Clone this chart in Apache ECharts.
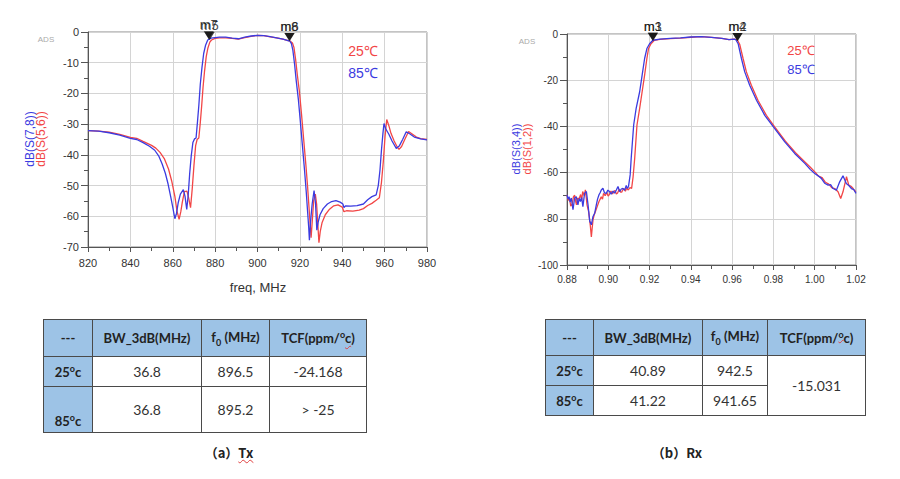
<!DOCTYPE html>
<html>
<head>
<meta charset="utf-8">
<script src="https://cdn.jsdelivr.net/npm/echarts@6/dist/echarts.min.js"></script>
<style>
body{margin:0;background:#fff;width:900px;height:479px;position:relative;overflow:hidden;font-family:Lato,"Noto Sans CJK SC",sans-serif}
#chart{position:absolute;left:0;top:0;width:900px;height:300px;font-family:"Liberation Sans",sans-serif}
table{position:absolute;border-collapse:collapse;table-layout:fixed;color:#333;font-size:14px}
td{border:1px solid #4a4a4a;text-align:center;padding:0}
td.h{background:#9dc3e6;font-weight:bold;color:#222;font-size:13px}
td.b{vertical-align:bottom;padding-bottom:3px}
sub,sup{font-size:9px}
.sp{text-decoration:underline wavy #e04040;text-decoration-thickness:1px}
.cap{position:absolute;top:443px;font-family:"Noto Sans CJK SC",sans-serif;font-weight:bold;font-size:13px;color:#222;transform:translateX(-50%)}
</style>
</head>
<body>
<div id="chart"></div>
<div class="cap" style="left:229px">（a）<span class="sp">Tx</span></div>
<div class="cap" style="left:677px">（b）Rx</div>
<script>
// Tx 滤波器 (MHz, dB)
var tx25 = [[820,-32.1],[825,-32.3],[830,-32.6],[835,-33.3],[840,-34.3],[843,-34.6],[846,-35.6],[850,-36.9],[852,-37.8],[854,-39.2],[856,-41.2],[858,-44.6],[859.5,-48.5],[861,-53.5],[862,-58.3],[863,-61],[863.8,-58.5],[864.5,-55.5],[865.5,-52],[866.7,-51.8],[867.5,-54],[868.4,-57.2],[869.2,-51],[870,-43.5],[870.8,-37],[871.5,-35],[872.3,-34.5],[873,-29.5],[873.6,-24.5],[874.3,-18],[875,-12.8],[875.8,-8],[876.6,-5.2],[877.5,-3.3],[878.3,-2.6],[880,-2.1],[882,-1.9],[885,-1.9],[888,-2.1],[891,-2.3],[894,-1.8],[897,-1.4],[900,-1.1],[903,-1.2],[906,-1.6],[909,-1.9],[912,-2.3],[914,-2.7],[915.5,-3],[916.5,-3.6],[917.2,-5],[918,-9],[918.8,-14],[919.8,-19.5],[920.8,-27],[921.8,-35],[922.8,-43],[923.6,-50],[924.3,-57],[924.9,-63],[925.3,-67],[925.8,-62],[926.5,-55],[927.3,-52.8],[927.9,-56],[928.5,-63],[929,-68.6],[929.6,-65],[930.5,-62],[932,-59.5],[934,-57.7],[936,-56.6],[938,-56.3],[940,-57],[940.8,-58.5],[942,-58.2],[945,-58.3],[948,-58],[950,-57.5],[952,-56.5],[954,-55.8],[956,-54.8],[957.5,-54],[958.5,-49],[959.4,-42],[960.2,-34],[961,-28.5],[962,-30.5],[963,-33],[964.5,-35.5],[966,-37.5],[966.8,-38.2],[968,-37.3],[969.5,-35],[971.3,-32.4],[973,-33.2],[975,-34.2],[977,-34.7],[980,-35]];
var tx85 = [[820,-32.1],[825,-32.3],[830,-32.8],[835,-33.6],[840,-34.6],[843,-35],[846,-36],[849,-37.2],[851.5,-38.5],[853.5,-40.5],[855,-43],[856.5,-46],[857.8,-49.5],[859,-53.5],[860,-57],[861,-60.8],[861.8,-59],[862.6,-55.5],[863.6,-52.8],[865,-51.3],[865.8,-53.5],[866.6,-57.8],[867.3,-53],[868,-46],[868.7,-40.5],[869.5,-36],[870.3,-34.8],[871,-34.5],[871.7,-29],[872.3,-24],[873,-17],[873.8,-11.5],[874.6,-7],[875.5,-4.3],[876.5,-2.6],[878,-2],[880,-1.8],[882,-1.7],[885,-1.7],[888,-2],[891,-2.2],[894,-1.7],[897,-1.3],[900,-1.1],[903,-1.2],[906,-1.5],[909,-1.9],[912,-2.3],[914,-2.7],[915.3,-3],[916,-3.8],[916.7,-6],[917.5,-10.5],[918.3,-16],[919.3,-22],[920.2,-29],[921.2,-37],[922.2,-45],[923,-52],[923.7,-59],[924.2,-64],[924.5,-67.8],[925,-62],[925.8,-56],[926.7,-51.6],[927.4,-56],[928,-64.5],[928.6,-62],[929.5,-59.5],[931,-57.5],[933,-56],[935,-55.2],[937,-54.9],[939,-55.4],[940.3,-56],[940.8,-57.2],[941.5,-56.6],[944,-56.7],[947,-56.5],[950,-56],[952,-54.6],[954,-53.6],[956,-53],[957,-50],[957.8,-45],[958.5,-38.5],[959.2,-33],[959.7,-29.8],[960.5,-31.5],[962,-33.3],[963.5,-35.5],[965.5,-37.9],[967,-37],[968.5,-35],[970.2,-32.5],[972,-33.2],[974,-34.2],[977,-34.8],[980,-35.1]];

// Rx 滤波器 (GHz, dB)
var rx25 = [[0.88,-69.6],[0.8806,-72],[0.8812,-71],[0.8818,-74.5],[0.8825,-73.7],[0.8831,-70.5],[0.8837,-69.8],[0.8842,-72.5],[0.8846,-74],[0.8852,-71],[0.8858,-71.5],[0.8866,-69.5],[0.8871,-72],[0.8876,-68.2],[0.8884,-70],[0.8889,-67.5],[0.8893,-70.5],[0.8897,-74],[0.8905,-77],[0.8913,-83],[0.8918,-87.8],[0.8922,-84],[0.8926,-80.5],[0.8931,-78.5],[0.8939,-76.5],[0.8947,-74.5],[0.8955,-72.5],[0.8966,-70.5],[0.8972,-71.5],[0.8977,-69],[0.8985,-70],[0.8993,-68.5],[0.8999,-70.2],[0.9005,-69.5],[0.9013,-68],[0.9021,-69.2],[0.9027,-68.1],[0.9033,-67.8],[0.9039,-69.3],[0.9045,-68.8],[0.9053,-67.2],[0.9059,-68.4],[0.9065,-68.5],[0.9071,-67.3],[0.9077,-67],[0.9083,-68.1],[0.9088,-66.8],[0.9097,-67.5],[0.9105,-66.5],[0.9113,-66.8],[0.912,-62],[0.9128,-53.8],[0.9139,-39.4],[0.9152,-32.2],[0.9164,-25],[0.9176,-17.8],[0.9187,-10.6],[0.9195,-6.3],[0.9207,-4.2],[0.9222,-2.8],[0.925,-2.3],[0.93,-2],[0.935,-1.8],[0.94,-1.4],[0.945,-1.1],[0.95,-1.5],[0.955,-1.9],[0.9585,-2.4],[0.961,-2.2],[0.9625,-2.5],[0.9637,-4.6],[0.9653,-10.6],[0.9669,-16.4],[0.9693,-22.2],[0.9725,-28.7],[0.9766,-35.2],[0.9806,-40.2],[0.9858,-46.4],[0.9907,-51.4],[0.9955,-55.6],[0.998,-57.8],[1.0003,-59.9],[1.0018,-61.5],[1.0036,-62.2],[1.0052,-64.2],[1.0068,-65],[1.0082,-66.5],[1.0097,-66.9],[1.0113,-68.3],[1.0126,-71.2],[1.0137,-68.3],[1.0154,-61.8],[1.0165,-65.4],[1.0176,-65.9],[1.0186,-66.9],[1.0193,-67.8],[1.02,-68.3]];
var rx85 = [[0.88,-69.6],[0.8805,-71.5],[0.881,-70.4],[0.8815,-72.8],[0.8821,-71],[0.8829,-76],[0.8837,-71],[0.8845,-70.4],[0.8853,-74],[0.8859,-71.2],[0.8865,-72.5],[0.8871,-70.8],[0.8877,-74.7],[0.8885,-69],[0.8894,-68.2],[0.8902,-74],[0.891,-81],[0.8918,-82.6],[0.8926,-79],[0.8934,-77.6],[0.8942,-74],[0.8948,-71.5],[0.8955,-69.6],[0.8961,-68.6],[0.8966,-67.5],[0.8974,-66.8],[0.8982,-68.8],[0.899,-69],[0.8998,-67.6],[0.9006,-68.2],[0.9014,-69.3],[0.9023,-68],[0.9031,-68.9],[0.9039,-67.5],[0.9047,-66],[0.9055,-68.2],[0.9063,-67.1],[0.9071,-66.8],[0.9079,-67.7],[0.9087,-65.6],[0.9093,-66.9],[0.9098,-66],[0.9106,-61],[0.9111,-53.8],[0.9123,-39.4],[0.9135,-32.2],[0.9152,-25],[0.9164,-17.8],[0.9176,-10.6],[0.9187,-6.3],[0.92,-4.2],[0.9216,-2.7],[0.925,-2.2],[0.93,-1.9],[0.935,-1.7],[0.94,-1.3],[0.945,-1.1],[0.95,-1.5],[0.955,-1.9],[0.9585,-2.4],[0.961,-2.2],[0.9618,-2.5],[0.9629,-4.2],[0.9645,-10.6],[0.9661,-16.4],[0.9685,-22.2],[0.9718,-28.7],[0.9758,-35.2],[0.98,-40.2],[0.9855,-46.7],[0.9903,-51.7],[0.9952,-56],[0.9978,-58.6],[1.0,-60.4],[1.0015,-61.3],[1.0032,-62.5],[1.0048,-64.6],[1.0065,-65.4],[1.0077,-65.2],[1.0089,-66.9],[1.0105,-67.6],[1.0121,-64],[1.0137,-61.4],[1.0153,-64.7],[1.0165,-65.6],[1.0178,-66.9],[1.019,-67.4],[1.02,-69]];

// 标记点 [x, dB, 名称]
var txMarkers = [[877.4,-2.6,'m5'],[877.0,-2.4,'m7'],[915.2,-2.9,'m6'],[915.0,-2.9,'m8']];
var rxMarkers = [[0.9217,-2.9,'m1'],[0.9215,-2.9,'m3'],[0.9627,-3.0,'m2'],[0.9625,-3.0,'m4']];

// 表格数据
var txHead = ['---', 'BW_3dB(MHz)', 'f<sub>0</sub> (MHz)', 'TCF(ppm/<sup>o</sup><span class="sp">c</span>)'];
var txRows = [['25', '36.8', '896.5', '-24.168'], ['85', '36.8', '895.2', '&gt; -25']];
var rxHead = ['---', 'BW_3dB(MHz)', 'f<sub>0</sub> (MHz)', 'TCF(ppm/<sup><span class="sp">o</span></sup>c)'];
var rxRows = [['25', '40.89', '942.5'], ['85', '41.22', '941.65']];
var rxTcf = '-15.031';

var RED = '#f24646', BLUE = '#3b3be0';
var FONT = 'Liberation Sans';

function buildTable(left, widths, heights, head, rows, span, lastBottom) {
    var t = document.createElement('table');
    t.style.left = left + 'px';
    t.style.top = '319px';
    var html = '<colgroup>';
    widths.forEach(function (w) { html += '<col style="width:' + w + 'px">'; });
    html += '</colgroup><tr style="height:' + heights[0] + 'px">';
    head.forEach(function (h) { html += '<td class="h">' + h + '</td>'; });
    html += '</tr>';
    rows.forEach(function (r, i) {
        html += '<tr style="height:' + heights[i + 1] + 'px">';
        var cls = (lastBottom && i === rows.length - 1) ? 'h b' : 'h';
        html += '<td class="' + cls + '">' + r[0] + '<sup>o</sup>c</td>';
        for (var k = 1; k < r.length; k++) html += '<td>' + r[k] + '</td>';
        if (span && i === 0) html += '<td rowspan="' + rows.length + '">' + span + '</td>';
        html += '</tr>';
    });
    t.innerHTML = html;
    document.body.appendChild(t);
}
buildTable(43, [49, 109, 68, 97], [37, 30, 46], txHead, txRows, null, true);
buildTable(545, [48, 109, 65, 98], [36, 30, 30], rxHead, rxRows, rxTcf, false);

var myChart = echarts.init(document.getElementById('chart'), null, {renderer: 'svg'});

function xAxisCfg(idx, min, max, interval, fmt, size, margin) {
    return {
        type: 'value', gridIndex: idx, min: min, max: max, interval: interval,
        axisLine: {onZero: false, lineStyle: {color: '#555'}},
        axisTick: {length: 5, lineStyle: {color: '#555'}},
        minorTick: {show: true, splitNumber: 2, length: 4, lineStyle: {color: '#555'}},
        axisLabel: {color: '#333', fontSize: size, fontFamily: FONT, margin: margin, formatter: fmt},
        splitLine: {show: true, lineStyle: {color: '#d4d4d4'}}
    };
}
function yAxisCfg(idx, min, max, interval, size) {
    return {
        type: 'value', gridIndex: idx, min: min, max: max, interval: interval,
        axisLine: {show: true, lineStyle: {color: '#555'}},
        axisTick: {show: true, length: 7, lineStyle: {color: '#555'}},
        minorTick: {show: true, splitNumber: 2, length: 4, lineStyle: {color: '#555'}},
        axisLabel: {color: '#333', fontSize: size, fontFamily: FONT, margin: 9},
        splitLine: {show: true, lineStyle: {color: '#d4d4d4'}}
    };
}
function lineSeries(idx, data, color) {
    return {
        type: 'line', xAxisIndex: idx, yAxisIndex: idx, data: data, showSymbol: false,
        lineStyle: {color: color, width: 1.3}, itemStyle: {color: color}, animation: false
    };
}
function markerSeries(idx, data) {
    return {
        type: 'scatter', xAxisIndex: idx, yAxisIndex: idx, data: data, z: 10,
        symbol: 'triangle', symbolRotate: 180, symbolSize: [10, 8], symbolOffset: [0, -4],
        itemStyle: {color: '#111'}, animation: false,
        label: {show: true, position: 'top', distance: 0, color: '#111', fontSize: 13, fontFamily: FONT,
            formatter: function (p) { return p.data[2]; }}
    };
}
function txt(x, y, s, color, size, rot) {
    return {type: 'text', x: x, y: y, rotation: rot || 0, z: 20,
        style: {text: s, fill: color, fontSize: size, fontFamily: FONT, align: 'center', verticalAlign: 'middle'}};
}

var option = {
    animation: false,
    textStyle: {fontFamily: FONT},
    grid: [
        {left: 88, top: 32, width: 339, height: 215, show: true, borderColor: '#888', borderWidth: 1},
        {left: 567, top: 34, width: 289, height: 231, show: true, borderColor: '#888', borderWidth: 1}
    ],
    xAxis: [
        xAxisCfg(0, 820, 980, 20, null, 11, 10),
        xAxisCfg(1, 0.88, 1.02, 0.02, function (v) { return v.toFixed(2); }, 10, 9)
    ],
    yAxis: [
        yAxisCfg(0, -70, 0, 10, 11),
        yAxisCfg(1, -100, 0, 20, 10)
    ],
    series: [
        lineSeries(0, tx25, RED),
        lineSeries(0, tx85, BLUE),
        lineSeries(1, rx25, RED),
        lineSeries(1, rx85, BLUE),
        markerSeries(0, txMarkers),
        markerSeries(1, rxMarkers)
    ],
    graphic: [
        txt(46, 39, 'ADS', '#aaa', 8),
        txt(527, 41, 'ADS', '#aaa', 8),
        txt(30, 139, 'dB(S(7,8))', BLUE, 12, Math.PI / 2),
        txt(41, 139, 'dB(S(5,6))', RED, 12, Math.PI / 2),
        txt(516, 149, 'dB(S(3,4))', BLUE, 11, Math.PI / 2),
        txt(527, 149, 'dB(S(1,2))', RED, 11, Math.PI / 2),
        txt(258, 287, 'freq, MHz', '#333', 13),
        txt(363, 51, '25℃', RED, 14),
        txt(363, 73, '85℃', BLUE, 14),
        txt(801, 50, '25℃', RED, 13),
        txt(801, 69, '85℃', BLUE, 13)
    ]
};
myChart.setOption(option);
</script>
</body>
</html>
